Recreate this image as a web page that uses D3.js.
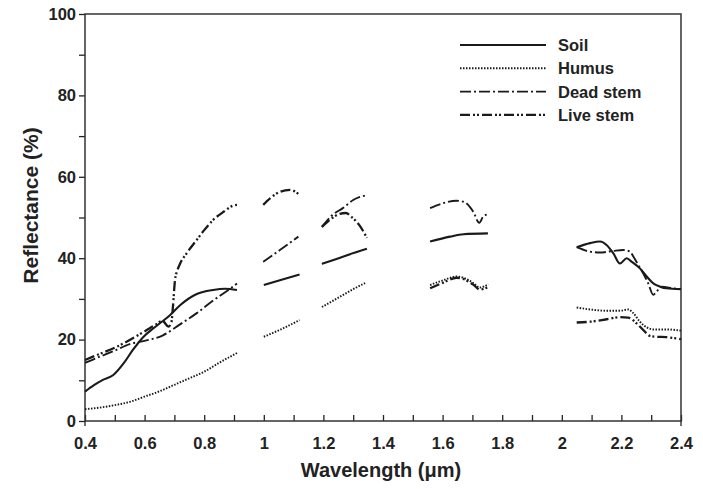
<!DOCTYPE html>
<html>
<head>
<meta charset="utf-8">
<script src="https://cdn.jsdelivr.net/npm/d3@7"></script>
<style>
  body { margin: 0; background: #fff; }
  svg text { font-family: "Liberation Sans", Arial, sans-serif; fill: #222; }
</style>
</head>
<body>
<div id="chart"></div>
<script>
// wavelength (um), reflectance (%) ; null = gap in the record
var soil = [
  [0.40, 7.2], [0.43, 8.8], [0.46, 10.1], [0.495, 11.3], [0.53, 14.2], [0.56, 17.4],
  [0.595, 20.6], [0.63, 22.8], [0.66, 24.5], [0.685, 26], [0.72, 28.5], [0.775, 31.2],
  [0.83, 32.2], [0.87, 32.5], [0.91, 32.2],
  null,
  [1.0, 33.4], [1.054, 34.6], [1.12, 36],
  null,
  [1.195, 38.6], [1.27, 40.5], [1.346, 42.3],
  null,
  [1.558, 44.1], [1.625, 45.3], [1.67, 45.9], [1.752, 46.1],
  null,
  [2.05, 42.7], [2.095, 43.7], [2.128, 44.1], [2.151, 43.2], [2.173, 41.2], [2.195, 38.7],
  [2.218, 40], [2.235, 39.1], [2.262, 37.5], [2.285, 35.5], [2.307, 33.8], [2.33, 33],
  [2.35, 32.6], [2.4, 32.4]
];
var humus = [
  [0.40, 2.9], [0.45, 3.3], [0.5, 3.9], [0.55, 4.7], [0.6, 6], [0.65, 7.3], [0.7, 8.9],
  [0.75, 10.5], [0.8, 12.1], [0.85, 14.3], [0.91, 16.7],
  null,
  [1.0, 20.7], [1.054, 22.4], [1.12, 24.8],
  null,
  [1.195, 28], [1.25, 30.3], [1.3, 32.4], [1.34, 33.9],
  null,
  [1.558, 33.4], [1.602, 34.6], [1.647, 35.5], [1.669, 35.2], [1.703, 33.9], [1.725, 32.8], [1.753, 33.6],
  null,
  [2.05, 27.9], [2.095, 27.4], [2.151, 27.1], [2.195, 27.1], [2.223, 27.4], [2.24, 26.5],
  [2.262, 24.4], [2.285, 23], [2.307, 22.5], [2.35, 22.5], [2.4, 22.2]
];
var deadStem = [
  [0.40, 14.3], [0.45, 15.8], [0.5, 17.3], [0.55, 18.9], [0.6, 19.7], [0.66, 21], [0.72, 23.8],
  [0.775, 26.5], [0.83, 29.6], [0.887, 32.5], [0.91, 33.8],
  null,
  [0.998, 39.1], [1.054, 42], [1.116, 45.3],
  null,
  [1.195, 47.7], [1.23, 50.6], [1.265, 52.3], [1.3, 54.3], [1.346, 55.5],
  null,
  [1.558, 52.3], [1.647, 54.1], [1.669, 53.9], [1.703, 51.4], [1.723, 48.7], [1.736, 50.2], [1.753, 50.8],
  null,
  [2.05, 42.7], [2.095, 41.6], [2.128, 41.4], [2.173, 41.8], [2.206, 42], [2.229, 41.6], [2.24, 40.4],
  [2.257, 38.3], [2.273, 36.3], [2.29, 33.8], [2.307, 31], [2.318, 31.8], [2.335, 33], [2.374, 32.6],
  [2.4, 32.4]
];
var liveStem = [
  [0.40, 15], [0.45, 16.5], [0.5, 18], [0.55, 19.9], [0.6, 22], [0.64, 23.8], [0.66, 24.6],
  [0.68, 23.2], [0.69, 24.3], [0.695, 28], [0.702, 34.6], [0.71, 37], [0.72, 38.8], [0.741, 41.2],
  [0.775, 44.5], [0.8, 46.9], [0.83, 49.4], [0.865, 51.4], [0.9, 53], [0.91, 53.1],
  null,
  [0.998, 53.1], [1.021, 54.7], [1.054, 56.3], [1.088, 56.8], [1.121, 55.5],
  null,
  [1.195, 47.7], [1.23, 49.9], [1.255, 50.9], [1.275, 51.1], [1.295, 50.1], [1.32, 48.2], [1.346, 45],
  null,
  [1.558, 32.6], [1.602, 34], [1.647, 35.2], [1.669, 34.9], [1.703, 33.5], [1.725, 32.3], [1.753, 32.9],
  null,
  [2.05, 24.2], [2.095, 24.4], [2.151, 25], [2.195, 25.5], [2.223, 25.4], [2.251, 24], [2.273, 22.4],
  [2.296, 20.9], [2.318, 20.7], [2.35, 20.6], [2.4, 20.1]
];

var seriesNames = ['Soil', 'Humus', 'Dead stem', 'Live stem'];
var xTicks = [0.4, 0.6, 0.8, 1, 1.2, 1.4, 1.6, 1.8, 2, 2.2, 2.4];
var yTicks = [0, 20, 40, 60, 80, 100];

var chart_width = 703;
var chart_height = 489;
var m_left = 85, m_right = 681, m_top = 14, m_bottom = 421;

var svg = d3.select('#chart')
  .append('svg')
  .attr('width', chart_width)
  .attr('height', chart_height);

var x_scale = d3.scaleLinear().domain([0.4, 2.4]).range([m_left, m_right]);
var y_scale = d3.scaleLinear().domain([0, 100]).range([m_bottom, m_top]);

// y axis: minor ticks every 10, labels every 20
var y_axis = d3.axisLeft(y_scale)
  .tickValues(d3.range(0, 101, 10))
  .tickSize(6)
  .tickPadding(3)
  .tickFormat(function(d) { return yTicks.indexOf(d) >= 0 ? d : ''; });

var x_axis = d3.axisBottom(x_scale)
  .tickValues(d3.range(4, 25).map(function(d) { return d / 10; }))
  .tickSize(-6)
  .tickPadding(16)
  .tickFormat(function(d) {
    var v = Math.round(d * 10) / 10;
    return xTicks.indexOf(v) >= 0 ? v : '';
  });

var gy = svg.append('g')
  .attr('transform', 'translate(' + m_left + ',0)')
  .call(y_axis);

var gx = svg.append('g')
  .attr('transform', 'translate(0,' + m_bottom + ')')
  .call(x_axis);

[gx, gy].forEach(function(g) {
  g.select('.domain').remove();
  g.selectAll('line').attr('stroke', '#222').attr('stroke-width', 1.3);
  g.selectAll('text').attr('font-size', 16.5).attr('font-weight', 'bold').attr('fill', '#222');
});

// frame
svg.append('rect')
  .attr('x', m_left).attr('y', m_top)
  .attr('width', m_right - m_left).attr('height', m_bottom - m_top)
  .attr('fill', 'none').attr('stroke', '#333').attr('stroke-width', 1.5);

// small outward stubs at the ends of the x axis
svg.selectAll('.stub')
  .data([0.4, 2.4])
  .enter().append('line')
  .attr('x1', function(d) { return x_scale(d); })
  .attr('x2', function(d) { return x_scale(d); })
  .attr('y1', m_bottom).attr('y2', m_bottom + 5)
  .attr('stroke', '#222').attr('stroke-width', 1.3);

// axis titles
svg.append('text')
  .attr('x', (m_left + m_right) / 2 - 2)
  .attr('y', 477)
  .attr('text-anchor', 'middle')
  .attr('font-size', 20)
  .attr('font-weight', 'bold')
  .text('Wavelength (\u03bcm)');

svg.append('text')
  .attr('transform', 'translate(38,' + ((m_top + m_bottom) / 2 - 12) + ') rotate(-90)')
  .attr('text-anchor', 'middle')
  .attr('font-size', 21)
  .attr('font-weight', 'bold')
  .text('Reflectance (%)');

// lines
var dashes = ['none', '1.5,1.5', '11,3,2,3', '10,3,2,2,2,3'];
var widths = [2.1, 1.9, 1.9, 2.3];
var allSeries = [soil, humus, deadStem, liveStem];

var line = d3.line()
  .defined(function(d) { return d !== null; })
  .x(function(d) { return x_scale(d[0]); })
  .y(function(d) { return y_scale(d[1]); })
  .curve(d3.curveMonotoneX);

svg.append('g')
  .selectAll('path')
  .data(allSeries)
  .enter()
  .append('path')
  .attr('d', line)
  .attr('fill', 'none')
  .attr('stroke', '#1a1a1a')
  .attr('stroke-width', function(d, i) { return widths[i]; })
  .attr('stroke-dasharray', function(d, i) { return dashes[i]; });

// legend
var legend = svg.append('g')
  .selectAll('g')
  .data(seriesNames)
  .enter()
  .append('g')
  .attr('transform', function(d, i) { return 'translate(460,' + (45 + i * 23.3) + ')'; });

legend.append('line')
  .attr('x1', 0).attr('x2', 86)
  .attr('stroke', '#1a1a1a')
  .attr('stroke-width', function(d, i) { return widths[i]; })
  .attr('stroke-dasharray', function(d, i) { return dashes[i]; });

legend.append('text')
  .attr('x', 98)
  .attr('y', 6)
  .attr('font-size', 16.5)
  .attr('font-weight', 'bold')
  .text(function(d) { return d; });
</script>
</body>
</html>
